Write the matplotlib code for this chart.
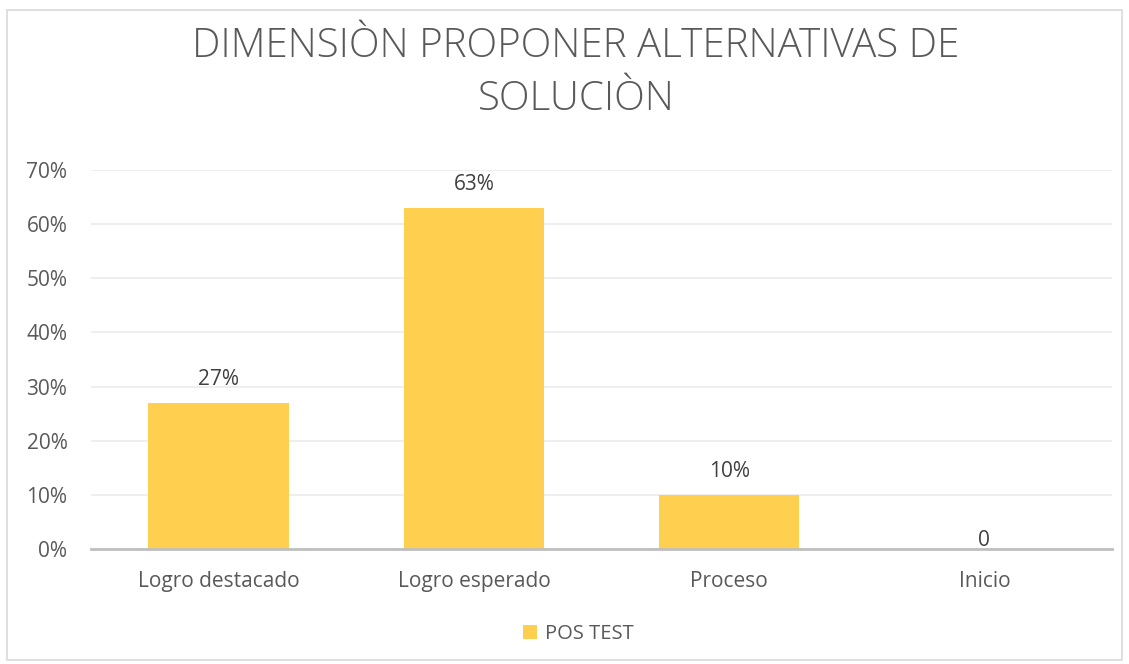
import matplotlib.pyplot as plt
from matplotlib.patches import Rectangle
from matplotlib.ticker import PercentFormatter

categories = ["Logro destacado", "Logro esperado", "Proceso", "Inicio"]
values = [0.27, 0.63, 0.10, 0.0]
labels = ["27%", "63%", "10%", "0"]
series_name = "POS TEST"
title = "DIMENSIÒN PROPONER ALTERNATIVAS DE\nSOLUCIÒN"

FONT = ["Open Sans", "DejaVu Sans"]
plt.rcParams['font.family'] = FONT

fig = plt.figure(figsize=(11.29, 6.64), dpi=100)
fig.patches.append(Rectangle((7/1129, 4/664), 1115/1129, 650/664, transform=fig.transFigure,
                             fill=False, edgecolor="#d9d9d9", linewidth=1.2))

ax = fig.add_axes([91/1129, (664-549)/664, (1112-91)/1129, (549-170)/664])
x = range(len(categories))
bars = ax.bar(x, values, width=0.55, color="#ffd050", label=series_name, zorder=3)
ax.set_xlim(-0.5, len(categories) - 0.5)
ax.set_ylim(0, 0.7)
ax.set_yticks([i / 10 for i in range(8)])
ax.yaxis.set_major_formatter(PercentFormatter(1.0, decimals=0))
ax.grid(axis="y", color="#ebebeb", linewidth=1.2, zorder=0)
for s in ["top", "right", "left"]:
    ax.spines[s].set_visible(False)
ax.spines["bottom"].set_color("#bfbfbf")
ax.spines["bottom"].set_linewidth(2)
ax.spines["bottom"].set_zorder(4)
ax.tick_params(axis="both", length=0, labelsize=15, colors="#595959")
ax.tick_params(axis="y", pad=17)
ax.tick_params(axis="x", pad=16)
ax.set_xticks(list(x))
ax.set_xticklabels(categories)

for xi, v, lab in zip(x, values, labels):
    off = 9 if v > 0 else -1.5
    ax.annotate(lab, (xi, v), xytext=(0, off), textcoords="offset points",
                ha="center", va="bottom", fontsize=15, color="#404040")

fig.text(576/1129, 1 - 73/664, title, ha="center", va="center", fontsize=29,
         color="#595959", fontweight="light", linespacing=1.4)

fig.legend(loc="center", bbox_to_anchor=(578/1129, 1 - 634/664), frameon=False,
           fontsize=14.5, labelcolor="#595959", handlelength=0.7, handleheight=0.7,
           handletextpad=0.4)

fig.savefig("out.png", dpi=100)
